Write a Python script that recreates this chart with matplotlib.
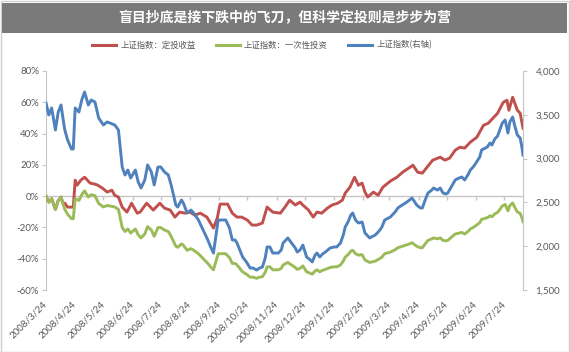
import matplotlib
matplotlib.use("Agg")
import matplotlib.pyplot as plt
from matplotlib.patches import Rectangle
from matplotlib.lines import Line2D
from matplotlib.ticker import FuncFormatter, MultipleLocator
import pandas as pd

# ---------------- data ----------------
start_date = "2008-03-24"

# Shanghai Composite index (right axis): (calendar-day offset from start, index level)
index_pts = [
    (0, 3635), (3, 3498), (6, 3578), (10, 3326), (13, 3532), (16, 3612), (18, 3463), (20, 3326),
    (23, 3212), (27, 3110), (29, 3110), (31, 3578), (35, 3532), (38, 3669), (41, 3760), (45, 3612),
    (48, 3669), (52, 3646), (56, 3463), (61, 3384), (65, 3418), (68, 3406), (73, 3384), (77, 3326),
    (81, 2904), (84, 2813), (87, 2870), (90, 2778), (95, 2870), (98, 2733), (101, 2664), (105, 2756),
    (108, 2927), (112, 2847), (115, 2699), (119, 2904), (122, 2904), (126, 2847), (130, 2813), (133, 2699),
    (135, 2607), (138, 2470), (140, 2447), (144, 2527), (146, 2493), (150, 2379), (154, 2413), (157, 2379),
    (162, 2299), (167, 2185), (170, 2116), (172, 2071), (175, 1991), (178, 1922), (180, 2071), (183, 2299),
    (187, 2299), (191, 2299), (195, 2208), (198, 2071), (201, 2071), (203, 2036), (206, 1956), (209, 1877),
    (213, 1820), (217, 1751), (220, 1751), (224, 1728), (227, 1751), (230, 1762), (233, 1865), (235, 1991),
    (238, 1991), (241, 1922), (244, 1922), (247, 1922), (250, 1956), (252, 2036), (255, 2071), (257, 2094),
    (261, 2036), (265, 1979), (267, 1934), (270, 1956), (273, 2013), (277, 1877), (281, 1842), (283, 1820),
    (286, 1899), (288, 1922), (291, 1877), (294, 1911), (297, 1934), (302, 1979), (306, 1991), (309, 1991),
    (313, 2036), (316, 2128), (318, 2219), (321, 2276), (324, 2356), (326, 2379), (329, 2299), (332, 2265),
    (336, 2276), (339, 2151), (342, 2116), (344, 2094), (348, 2116), (350, 2128), (354, 2173), (357, 2219),
    (360, 2299), (364, 2322), (366, 2333), (369, 2367), (371, 2390), (374, 2436), (377, 2459), (382, 2493),
    (385, 2516), (389, 2550), (392, 2504), (394, 2470), (398, 2436), (400, 2436), (403, 2527), (406, 2607),
    (410, 2641), (412, 2664), (416, 2641), (419, 2664), (422, 2607), (425, 2596), (427, 2607), (432, 2699),
    (435, 2756), (439, 2778), (442, 2790), (445, 2756), (449, 2824), (451, 2870), (454, 2904), (457, 2950),
    (461, 3018), (463, 3098), (467, 3121), (469, 3132), (472, 3178), (474, 3155), (477, 3224), (480, 3258),
    (483, 3349), (485, 3406), (488, 3441), (491, 3292), (493, 3418), (496, 3475), (498, 3384), (501, 3269),
    (504, 3235), (506, 3121), (507, 3041),
]

# lump-sum investment return, % (same dates as index_pts)
lump_sum_pct = [
    0.0, -3.8, -1.6, -8.5, -2.8, -0.6, -4.7, -8.5, -11.6, -14.4, -14.4, -1.6, -2.8, 0.9, 3.4, -0.6,
    0.9, 0.3, -4.7, -6.9, -6.0, -6.3, -6.9, -8.5, -20.1, -22.6, -21.0, -23.6, -21.0, -24.8, -26.7, -24.2,
    -19.5, -21.7, -25.7, -20.1, -20.1, -21.7, -22.6, -25.7, -28.3, -32.0, -32.7, -30.5, -31.4, -34.6, -33.6, -34.6,
    -36.8, -39.9, -41.8, -43.0, -45.2, -47.1, -43.0, -36.8, -36.8, -36.8, -39.3, -43.0, -43.0, -44.0, -46.2, -48.4,
    -49.9, -51.8, -51.8, -52.5, -51.8, -51.5, -48.7, -45.2, -45.2, -47.1, -47.1, -47.1, -46.2, -44.0, -43.0, -42.4,
    -44.0, -45.6, -46.8, -46.2, -44.6, -48.4, -49.3, -49.9, -47.8, -47.1, -48.4, -47.4, -46.8, -45.6, -45.2, -45.2,
    -44.0, -41.5, -39.0, -37.4, -35.2, -34.6, -36.8, -37.7, -37.4, -40.8, -41.8, -42.4, -41.8, -41.5, -40.2, -39.0,
    -36.8, -36.1, -35.8, -34.9, -34.3, -33.0, -32.4, -31.4, -30.8, -29.8, -31.1, -32.0, -33.0, -33.0, -30.5, -28.3,
    -27.3, -26.7, -27.3, -26.7, -28.3, -28.6, -28.3, -25.7, -24.2, -23.6, -23.2, -24.2, -22.3, -21.0, -20.1, -18.8,
    -17.0, -14.8, -14.1, -13.8, -12.6, -13.2, -11.3, -10.4, -7.9, -6.3, -5.3, -9.4, -6.0, -4.4, -6.9, -10.1,
    -11.0, -14.1, -16.3,
]

# monthly fixed investment (DCA) return, %: (calendar-day offset, return)
dca_pts = [
    (0, 0.0), (3, -3.8), (6, -1.6), (10, -8.5), (13, -2.8), (16, -0.6), (18, -4.7), (20, -4.5),
    (23, -7.0), (27, -7.0), (29, -7.0), (31, 10.2), (33, 7.0), (37, 10.2), (41, 12.1), (47, 8.3),
    (52, 7.7), (55, 7.0), (60, 5.1), (65, 2.6), (70, 3.8), (73, 0.6), (77, -0.6), (81, -7.0),
    (86, -10.2), (91, -4.5), (97, -10.9), (100, -10.2), (107, -4.5), (114, -8.9), (121, -4.5), (126, -7.7),
    (132, -8.9), (137, -13.4), (142, -10.2), (148, -10.9), (153, -10.2), (158, -12.1), (164, -10.9), (171, -13.4),
    (178, -20.4), (182, -14.1), (185, -5.1), (193, -5.1), (198, -10.9), (203, -13.4), (208, -13.4), (214, -15.3),
    (219, -18.5), (224, -18.5), (230, -17.2), (235, -7.0), (241, -10.2), (249, -10.9), (254, -7.0), (259, -2.6),
    (265, -5.7), (270, -3.8), (273, -5.7), (279, -8.9), (284, -13.4), (288, -10.2), (293, -10.9), (299, -7.7),
    (304, -5.7), (310, -4.5), (315, -2.6), (318, 1.9), (323, 5.7), (328, 12.1), (332, 7.0), (336, 8.3),
    (339, 2.6), (342, -0.6), (348, 2.6), (353, 0.6), (358, 5.7), (366, 9.6), (373, 12.1), (379, 15.3),
    (387, 18.5), (390, 19.8), (395, 15.3), (400, 14.7), (405, 18.5), (411, 23.0), (419, 24.9), (424, 23.0),
    (429, 24.3), (435, 29.4), (440, 31.3), (445, 30.7), (451, 34.5), (458, 37.7), (465, 45.3), (470, 46.6),
    (475, 49.8), (480, 53.0), (486, 60.0), (490, 61.3), (492, 54.9), (496, 63.2), (501, 54.9), (504, 53.0),
    (507, 43.4),
]

tick_labels = ["2008/3/24", "2008/4/24", "2008/5/24", "2008/6/24", "2008/7/24", "2008/8/24",
               "2008/9/24", "2008/10/24", "2008/11/24", "2008/12/24", "2009/1/24", "2009/2/24",
               "2009/3/24", "2009/4/24", "2009/5/24", "2009/6/24", "2009/7/24"]

title = "盲目抄底是接下跌中的飞刀，但科学定投则是步步为营"
label_dca = "上证指数：定投收益"
label_lump = "上证指数：一次性投资"
label_index = "上证指数(右轴)"

# ---------------- styling ----------------
RED = "#c0504d"
GREEN = "#9bbb59"
BLUE = "#4f81bd"
TXT = "#595959"
AXC = "#c6c6c6"
CJK = ["Noto Sans CJK SC", "DejaVu Sans"]
NUM = ["Lato", "DejaVu Sans"]
LW = 2.1

t0 = pd.Timestamp(start_date)
idx_dates = [t0 + pd.Timedelta(days=d) for d, _ in index_pts]
idx_vals = [v for _, v in index_pts]
dca_dates = [t0 + pd.Timedelta(days=d) for d, _ in dca_pts]
dca_vals = [v for _, v in dca_pts]
tick_dates = [pd.Timestamp(s.replace("/", "-")) for s in tick_labels]

W, H = 570, 352
fig = plt.figure(figsize=(W / 100, H / 100), dpi=100)
fig.patch.set_facecolor("white")

# outer frame and title bar
fig.patches.append(Rectangle((0.5 / W, 0.5 / H), 1 - 1.5 / W, 1 - 1.5 / H, transform=fig.transFigure,
                             fill=False, edgecolor="#d0d0d0", lw=1))
fig.patches.append(Rectangle((2 / W, 1 - 33 / H), 565 / W, 30 / H, transform=fig.transFigure,
                             facecolor="#7a7a7a", edgecolor="none"))
fig.text(0.5, 1 - 18 / H, title, color="white", fontsize=10, fontweight="bold",
         family=CJK, ha="center", va="center")

left, right, top, bottom = 46 / W, 523 / W, 1 - 71 / H, 1 - 290 / H
ax = fig.add_axes([left, bottom, right - left, top - bottom])
ax2 = ax.twinx()

ax.plot(dca_dates, dca_vals, color=RED, lw=LW, solid_joinstyle="round", zorder=3)
ax.plot(idx_dates, lump_sum_pct, color=GREEN, lw=LW, solid_joinstyle="round", zorder=3)
ax2.plot(idx_dates, idx_vals, color=BLUE, lw=LW, solid_joinstyle="round", zorder=3)

ax.set_xlim(t0, t0 + pd.Timedelta(days=507))
ax.set_ylim(-60, 80)
ax.yaxis.set_major_locator(MultipleLocator(20))
ax.yaxis.set_major_formatter(FuncFormatter(lambda v, p: f"{int(round(v))}%"))
ax2.set_ylim(1500, 4000)
ax2.yaxis.set_major_locator(MultipleLocator(500))
ax2.yaxis.set_major_formatter(FuncFormatter(lambda v, p: f"{int(v):,}"))

# zero line acting as the category axis, with monthly tick marks
ax.axhline(0, color=AXC, lw=1, zorder=1)
ax.vlines(tick_dates, -2.2, 0, color=AXC, lw=1, zorder=1)

ax.set_xticks(tick_dates)
ax.set_xticklabels(tick_labels, rotation=45, ha="right", va="center", rotation_mode="anchor")
ax.tick_params(axis="x", length=0, pad=9, labelsize=7, labelcolor=TXT)
for lab in ax.get_xticklabels():
    lab.set_family(NUM)

for a in (ax, ax2):
    for s in a.spines.values():
        s.set_visible(False)
ax.spines["left"].set_visible(True)
ax.spines["left"].set_color(AXC)
ax2.spines["right"].set_visible(True)
ax2.spines["right"].set_color(AXC)

ax.tick_params(axis="y", length=3, color=AXC, labelsize=7, labelcolor=TXT, pad=2)
ax2.tick_params(axis="y", length=3, color=AXC, labelsize=7, labelcolor=TXT, pad=6)
for lab in ax.get_yticklabels() + ax2.get_yticklabels():
    lab.set_family(NUM)

handles = [Line2D([], [], color=RED, lw=2.2), Line2D([], [], color=GREEN, lw=2.2),
           Line2D([], [], color=BLUE, lw=2.2)]
fig.legend(handles, [label_dca, label_lump, label_index], loc="center",
           bbox_to_anchor=(262 / W, 1 - 45 / H), ncol=3, frameon=False,
           prop={"family": CJK, "size": 6}, labelcolor=TXT,
           handlelength=2.9, handletextpad=0.5, columnspacing=2.4)

fig.savefig("out.png", dpi=100)
